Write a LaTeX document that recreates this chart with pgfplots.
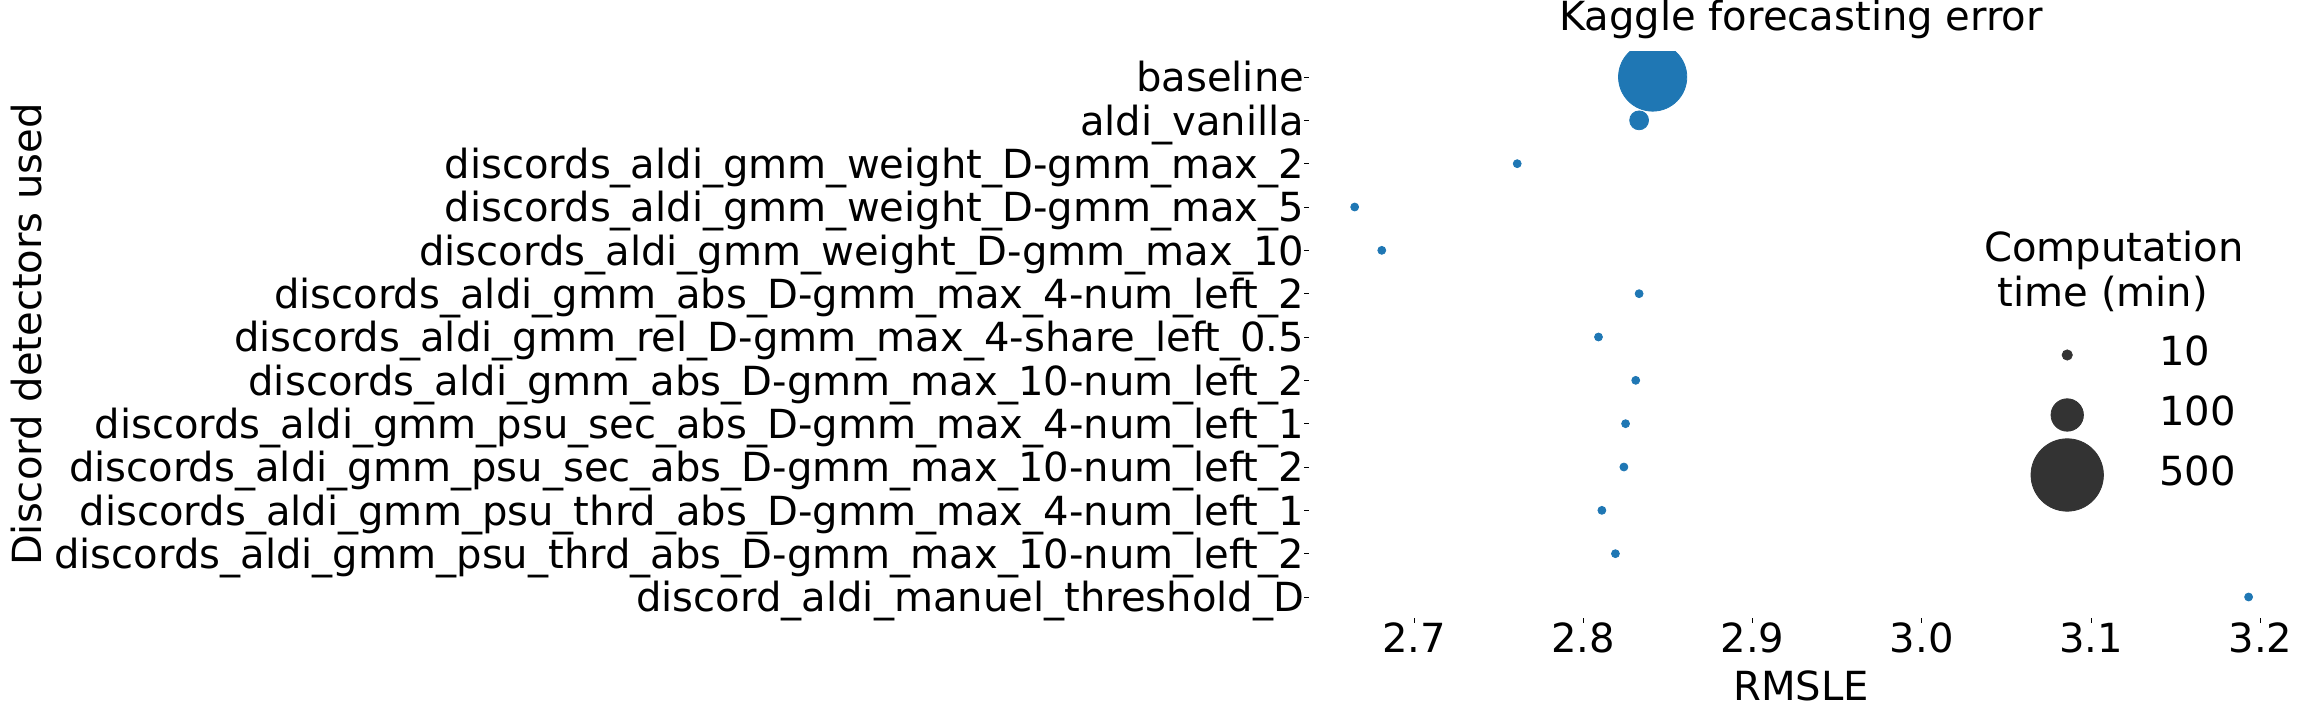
\documentclass[border=0pt]{standalone}
\usepackage{pgfplots}
\pgfplotsset{compat=1.18}
\usepackage{pgfplotstable}
\usepackage{fontspec}
\setmainfont{DejaVu Sans}
\definecolor{tabblue}{HTML}{1F77B4}
\definecolor{lgray}{HTML}{333333}
\newcommand{\ff}{\fontsize{20.05}{24}\selectfont}

% y = category index, x = RMSLE, t = computation time (min)
\pgfplotstableread{
y x t
0 2.841 444
1 2.833 34
2 2.761 6
3 2.665 6
4 2.681 6
5 2.833 6
6 2.809 6
7 2.831 6
8 2.825 6
9 2.824 6
10 2.811 6
11 2.819 6
12 3.193 6
}\rmsledata

\begin{document}
\begin{tikzpicture}
\begin{axis}[
  name=ax, at={(0,0)}, anchor=south west,
  scale only axis, width=492pt, height=283.5pt,
  xmin=2.638, xmax=3.2192,
  ymin=-0.6, ymax=12.485, y dir=reverse,
  axis line style={draw=none},
  tick align=outside, major tick length=2.25pt,
  tick style={black, line width=0.4pt},
  tick pos=left,
  font=\ff,
  tick label style={font=\ff},
  /pgf/number format/assume math mode=true,
  xtick={2.7,2.8,2.9,3.0,3.1,3.2},
  xticklabel style={anchor=north, inner sep=0pt,
    /pgf/number format/.cd, fixed, fixed zerofill, precision=1},
  ytick={0,1,2,3,4,5,6,7,8,9,10,11,12},
  yticklabels={baseline, aldi\_vanilla,
    discords\_aldi\_gmm\_weight\_D-gmm\_max\_2,
    discords\_aldi\_gmm\_weight\_D-gmm\_max\_5,
    discords\_aldi\_gmm\_weight\_D-gmm\_max\_10,
    discords\_aldi\_gmm\_abs\_D-gmm\_max\_4-num\_left\_2,
    discords\_aldi\_gmm\_rel\_D-gmm\_max\_4-share\_left\_0.5,
    discords\_aldi\_gmm\_abs\_D-gmm\_max\_10-num\_left\_2,
    discords\_aldi\_gmm\_psu\_sec\_abs\_D-gmm\_max\_4-num\_left\_1,
    discords\_aldi\_gmm\_psu\_sec\_abs\_D-gmm\_max\_10-num\_left\_2,
    discords\_aldi\_gmm\_psu\_thrd\_abs\_D-gmm\_max\_4-num\_left\_1,
    discords\_aldi\_gmm\_psu\_thrd\_abs\_D-gmm\_max\_10-num\_left\_2,
    discord\_aldi\_manuel\_threshold\_D},
  yticklabel style={anchor=base east, inner sep=0pt, yshift=-7.35pt},
  title={Kaggle forecasting error},
  title style={at={(axis description cs:0.5,1.01464)}, anchor=base, inner sep=0pt, font=\ff},
  xlabel={RMSLE},
  xlabel style={at={(axis description cs:0.5,-0.14462)}, anchor=base, inner sep=0pt, font=\ff},
  ylabel={Discord detectors used},
  ylabel style={at={(axis description cs:-1.2876,0.5)}, anchor=base, inner sep=0pt, font=\ff},
  clip marker paths=true,
  legend image code/.code={%
    \begin{pgfinterruptboundingbox}
      \draw[only marks, mark=*, #1] plot coordinates {(0pt,-2.2pt)};
    \end{pgfinterruptboundingbox}
    \path[draw=none, fill=none] (-18pt,0pt) -- (18pt,0pt);
  },
  legend style={at={(axis description cs:0.7340,0.4974)}, anchor=north west,
    draw=none, fill=none, inner sep=0pt, outer sep=0pt,
    row sep=15.4pt, column sep=28pt, font=\ff,
    nodes={inner sep=0pt, text height=14.6pt, text depth=0pt}},
  legend cell align=left,
]
\addplot[forget plot, scatter, only marks, mark=*,
  scatter/use mapped color={draw=tabblue, fill=tabblue},
  visualization depends on={0.81*sqrt(\thisrow{t}) \as \perpointmarksize},
  scatter/@pre marker code/.append style={/tikz/mark size=\perpointmarksize}]
  table[x=x, y=y] {\rmsledata};
\addlegendimage{lgray, mark size=2.56pt}
\addlegendentry{10}
\addlegendimage{lgray, mark size=8.1pt}
\addlegendentry{100}
\addlegendimage{lgray, mark size=18.1pt}
\addlegendentry{500}
\node[anchor=base, font=\ff, inner sep=0pt] at (axis description cs:0.8181,0.6296) {Computation};
\node[anchor=base, font=\ff, inner sep=0pt] at (axis description cs:0.8069,0.5503) {time (min)};
\end{axis}
\pgfresetboundingbox
\path[use as bounding box] (-654.5pt,-51pt) rectangle (497.5pt,309pt);
\end{tikzpicture}
\end{document}
